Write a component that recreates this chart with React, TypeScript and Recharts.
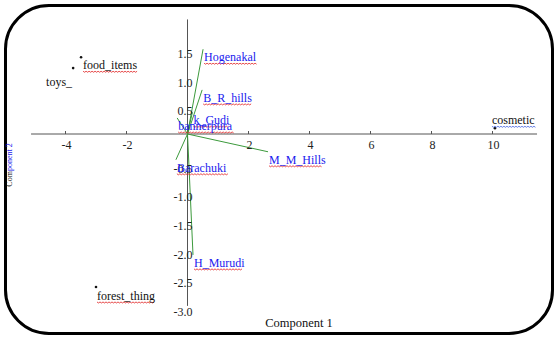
import React from 'react';
import { ScatterChart, Scatter, XAxis, YAxis, ReferenceLine } from 'recharts';

// scores (black dots)
const scoreNames = ['food_items', 'toys_', 'forest_thing', 'cosmetic'];
const scorePC1 = [-3.49, -3.75, -3.0, 10.08];
const scorePC2 = [1.34, 1.15, -2.67, 0.1];

// loadings (green arrows)
const loadNames = ['Hogenakal', 'B_R_hills', 'k_Gudi', 'bannerpura', 'Barachuki', 'M_M_Hills', 'H_Murudi'];
const loadPC1 = [0.51, 0.48, 0.16, -0.34, -0.38, 2.64, 0.18];
const loadPC2 = [1.48, 0.77, 0.38, 0.28, -0.45, -0.31, -2.11];

const xTicks = [-4, -2, 2, 4, 6, 8, 10];
const yTicks = [1.5, 1.0, 0.5, -0.5, -1.0, -1.5, -2.0, -2.5, -3.0];

// visible axis extent
const X_AXIS: [number, number] = [-5.13, 11.46];
const Y_AXIS: [number, number] = [-3, 2];
// whole svg mapped to data space (no margins, so nothing is clipped)
const X_DOMAIN: [number, number] = [-6.148, 12.049];
const Y_DOMAIN: [number, number] = [-3.543, 2.339];

// label placement relative to the mark: [dx, dy, anchor]
const scoreLabelPos: Record<string, [number, number, string]> = {
  food_items: [2, 12, 'start'],
  toys_: [-1, 18, 'end'],
  forest_thing: [1, 13, 'start'],
  cosmetic: [-3, -4, 'start'],
};

const FONT = '"Liberation Serif", "Times New Roman", serif';

// rough Times widths at 12px, for the spell-check squiggle
const narrow = 'iljtf.:';
const wide = 'mwMW';
const textWidth = (s: string) =>
  s.split('').reduce((w, c) => {
    if (narrow.includes(c)) return w + 3.4;
    if (wide.includes(c)) return w + 9.6;
    if (c === 'r' || c === 's') return w + 4.4;
    if (c >= 'A' && c <= 'Z') return w + 8;
    return w + 6;
  }, 0);

const Squiggle = ({ x, y, w, color }: { x: number; y: number; w: number; color: string }) => {
  let d = `M${x},${y}`;
  for (let i = 1; x + i * 1.5 <= x + w; i++) d += ` L${x + i * 1.5},${y + (i % 2 ? 1 : 0)}`;
  return <path d={d} fill="none" stroke={color} strokeWidth={0.8} />;
};

const scores = scoreNames.map((n, i) => ({ name: n, x: scorePC1[i], y: scorePC2[i] }));
const loads = loadNames.map((n, i) => ({ name: n, x: loadPC1[i], y: loadPC2[i] }));
const xTickData = xTicks.map((v) => ({ x: v, y: 0, label: String(v) }));
const yTickData = yTicks.map((v) => ({ x: 0, y: v, label: v.toFixed(1) }));

const ScoreShape = (p: any) => {
  const name = p.payload.name;
  const [dx, dy, anchor] = scoreLabelPos[name] || [2, 12, 'start'];
  const w = textWidth(name);
  const tx = anchor === 'end' ? p.cx + dx - w : p.cx + dx;
  return (
    <g>
      <circle cx={p.cx} cy={p.cy} r={1.3} fill="#111" />
      {name !== 'toys_' && (
        <Squiggle x={tx} y={p.cy + dy + 2} w={w} color={name === 'cosmetic' ? '#4060e0' : '#e02020'} />
      )}
      <text x={p.cx + dx} y={p.cy + dy} textAnchor={anchor as any} fontSize={12} fontFamily={FONT} fill="#111">
        {name}
      </text>
    </g>
  );
};

const LoadShape = (p: any) => (
  <g>
    <Squiggle x={p.cx + 1} y={p.cy + 14} w={textWidth(p.payload.name)} color="#e02020" />
    <text x={p.cx + 1} y={p.cy + 12} fontSize={12} fontFamily={FONT} fill="#1a1aee">
      {p.payload.name}
    </text>
  </g>
);

const XTickShape = (p: any) => (
  <g>
    <line x1={p.cx} x2={p.cx} y1={p.cy} y2={p.cy - 3} stroke="#555" />
    <text x={p.cx + 1} y={p.cy + 15} textAnchor="middle" fontSize={12} fontFamily={FONT} fill="#222">
      {p.payload.label}
    </text>
  </g>
);

const YTickShape = (p: any) => (
  <text x={p.cx + 5} y={p.cy + 10} textAnchor="end" fontSize={12} fontFamily={FONT} fill="#222">
    {p.payload.label}
  </text>
);

export default function App() {
  return (
    <div style={{ position: 'fixed', left: 0, top: 0, width: 555, height: 337, background: '#fff' }}>
      <div
        style={{
          position: 'absolute', left: 4, top: 4, width: 550, height: 331,
          boxSizing: 'border-box', border: '3px solid #000', borderRadius: 45,
        }}
      />
      <svg style={{ position: 'absolute', left: 0, top: 0 }} width={555} height={337}>
        <text transform="translate(12,165) rotate(-90)" textAnchor="middle" fontSize={8} fontFamily={FONT}>
          <tspan fill="#111">Com</tspan>
          <tspan fill="#1a1aee">ponent 2</tspan>
        </text>
        <text x={299} y={327} textAnchor="middle" fontSize={12.5} fontFamily={FONT} fill="#111">
          Component 1
        </text>
      </svg>
      <div style={{ position: 'absolute', left: 0, top: 0 }}>
        <ScatterChart width={555} height={337} margin={{ top: 0, right: 0, bottom: 0, left: 0 }}>
          <XAxis type="number" dataKey="x" domain={X_DOMAIN} allowDataOverflow hide />
          <YAxis type="number" dataKey="y" domain={Y_DOMAIN} allowDataOverflow hide />
          <ReferenceLine segment={[{ x: X_AXIS[0], y: 0 }, { x: X_AXIS[1], y: 0 }]} stroke="#555" strokeWidth={1} />
          <ReferenceLine segment={[{ x: 0, y: Y_AXIS[0] }, { x: 0, y: Y_AXIS[1] }]} stroke="#555" strokeWidth={1} />
          {loads.map((l) => (
            <ReferenceLine
              key={l.name}
              segment={[{ x: 0, y: 0 }, { x: l.x, y: l.y }]}
              stroke="#3c9a3c"
              strokeWidth={1}
            />
          ))}
          <Scatter data={xTickData} shape={XTickShape} isAnimationActive={false} />
          <Scatter data={yTickData} shape={YTickShape} isAnimationActive={false} />
          <Scatter data={scores} shape={ScoreShape} isAnimationActive={false} />
          <Scatter data={loads} shape={LoadShape} isAnimationActive={false} />
        </ScatterChart>
      </div>
    </div>
  );
}
